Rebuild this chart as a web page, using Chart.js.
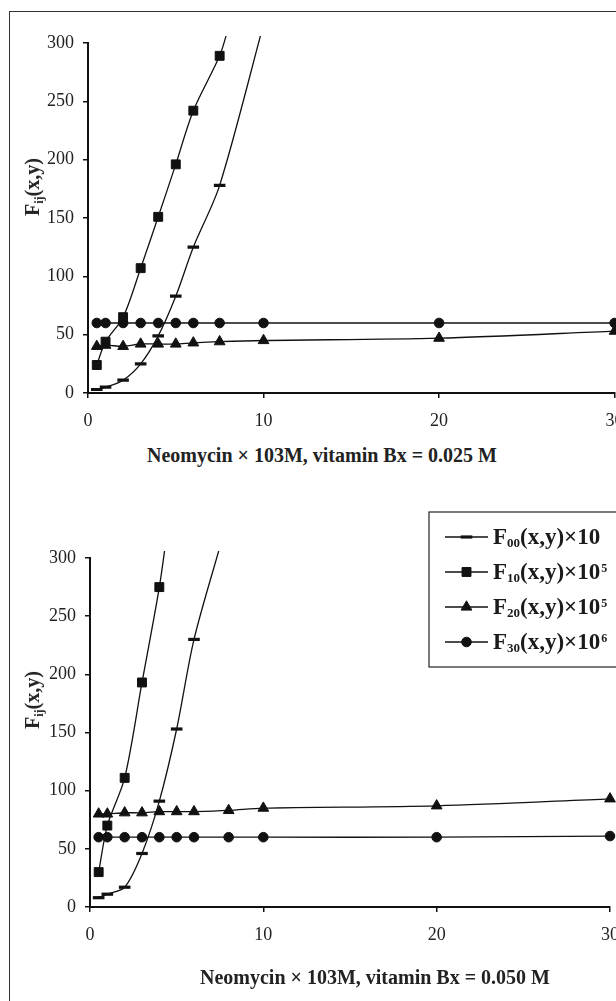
<!DOCTYPE html>
<html><head><meta charset="utf-8">
<script src="https://cdn.jsdelivr.net/npm/chart.js@4.4.1/dist/chart.umd.min.js"></script>
<style>
html,body{margin:0;padding:0;background:#fff;}
body{width:616px;height:1001px;overflow:hidden;position:relative;font-family:'Liberation Serif','Times New Roman',serif;color:#222;}
#frame{position:absolute;left:9px;top:11px;width:700px;height:1100px;border-left:1px solid #333;border-top:1px solid #333;}
canvas{position:absolute;left:0;}
#c1{top:0;}
#c2{top:500px;}
.xt{position:absolute;font-weight:bold;font-size:20px;line-height:20px;white-space:nowrap;}
.yt{position:absolute;font-weight:bold;font-size:20px;line-height:20px;white-space:nowrap;transform:translate(-50%,-50%) rotate(-90deg);}
.yt sub{font-size:12px;vertical-align:-4px;line-height:0;}
</style></head>
<body>
<div id="frame"></div>
<canvas id="c1" width="660" height="440"></canvas>
<canvas id="c2" width="660" height="500"></canvas>
<div class="yt" style="left:32px;top:187px;">F<sub>ij</sub>(x,y)</div>
<div class="xt" style="left:147px;top:445px;">Neomycin × 103M, vitamin Bx = 0.025 M</div>
<div class="yt" style="left:32px;top:700px;">F<sub>ij</sub>(x,y)</div>
<div class="xt" style="left:200px;top:967px;">Neomycin × 103M, vitamin Bx = 0.050 M</div>
<script>
// ---------- DATA ----------
const xTicks = [0, 10, 20, 30];
const yTicks = [0, 50, 100, 150, 200, 250, 300];

// Panel 1: vitamin Bx = 0.025 M
const xTop = [0.5, 1, 2, 3, 4, 5, 6, 7.5, 10, 20, 30];
const f00Top = [3, 5, 11, 25, 49, 83, 125, 178];
const f10Top = [24, 44, 65, 107, 151, 196, 242, 289];
const f20Top = [40, 41, 40, 42, 42, 42, 43, 44, 45, 47, 53];
const f30Top = [60, 60, 60, 60, 60, 60, 60, 60, 60, 60, 60];
// where the smoothed curves leave the plot (no marker)
const f00TopTail = [10, 316];
const f10TopTail = [8, 313];

// Panel 2: vitamin Bx = 0.050 M
const xBot = [0.5, 1, 2, 3, 4, 5, 6, 8, 10, 20, 30];
const f00Bot = [8, 11, 17, 46, 91, 153, 230];
const f10Bot = [30, 70, 111, 193, 275];
const f20Bot = [80, 80, 81, 81, 82, 82, 82, 83, 85, 87, 93];
const f30Bot = [60, 60, 60, 60, 60, 60, 60, 60, 60, 60, 61];
const f00BotTail = [7.5, 310];
const f10BotTail = [4.5, 328];

// Legend text pieces
const legBase = ['F', 'F', 'F', 'F'];
const legSub = ['00', '10', '20', '30'];
const legMain = ['(x,y)×10', '(x,y)×10', '(x,y)×10', '(x,y)×10'];
const legSup = ['', '5', '5', '6'];

// ---------- BUILD ----------
const INK = '#111';
const FONT = "'Liberation Serif','Times New Roman',serif";
Chart.defaults.font.family = FONT;
Chart.defaults.font.size = 18;
Chart.defaults.color = '#222';

const styles = [
  {pointStyle: 'line', radius: 5.8, pbw: 3.2},
  {pointStyle: 'rect', radius: 6.3, pbw: 1},
  {pointStyle: 'triangle', radius: 6.2, pbw: 1},
  {pointStyle: 'circle', radius: 4.8, pbw: 1}
];

function pts(xs, ys, tail) {
  const d = ys.map((v, i) => ({x: xs[i], y: v}));
  if (tail) d.push({x: tail[0], y: tail[1], tail: true});
  return d;
}
function ds(label, data, si) {
  const s = styles[si];
  return {
    label, data,
    borderColor: INK, borderWidth: 1.3,
    backgroundColor: INK,
    pointStyle: s.pointStyle,
    pointRadius: c => (c.raw && c.raw.tail) ? 0 : s.radius,
    pointBorderWidth: s.pbw,
    pointBorderColor: INK, pointBackgroundColor: INK,
    tension: 0.3,
    clip: {left: 10, right: 10, top: 7, bottom: 10}
  };
}
function scales(yWidth, xHeight) {
  return {
    x: {
      type: 'linear', min: 0, max: 30,
      afterBuildTicks: s => { s.ticks = xTicks.map(v => ({value: v})); },
      ticks: {padding: 12, color: '#222', font: {size: 18}},
      grid: {drawOnChartArea: false, drawTicks: true, tickLength: 5, color: INK, lineWidth: 1.5},
      border: {display: true, color: INK, width: 2},
      afterFit: s => { s.height = xHeight; }
    },
    y: {
      type: 'linear', min: 0, max: 300,
      afterBuildTicks: s => { s.ticks = yTicks.map(v => ({value: v})); },
      ticks: {padding: 9, color: '#222', font: {size: 18}},
      grid: {drawOnChartArea: false, drawTicks: true, tickLength: 5, color: INK, lineWidth: 1.5},
      border: {display: true, color: INK, width: 2},
      afterFit: s => { s.width = yWidth; }
    }
  };
}

const legendPlugin = {
  id: 'panelLegend',
  afterDraw(chart, args, o) {
    if (!o || !o.show) return;
    const ctx = chart.ctx;
    ctx.save();
    ctx.strokeStyle = '#222'; ctx.lineWidth = 1.2;
    ctx.strokeRect(o.left, o.top, o.width, o.height);
    chart.data.datasets.forEach((d, i) => {
      const y = o.top + o.firstRow + i * o.rowGap;
      ctx.strokeStyle = INK; ctx.fillStyle = INK; ctx.lineWidth = 1.3;
      ctx.beginPath(); ctx.moveTo(o.lineX0, y); ctx.lineTo(o.lineX1, y); ctx.stroke();
      const s = styles[i];
      ctx.lineWidth = s.pbw;
      Chart.helpers.drawPoint(ctx, {pointStyle: s.pointStyle, radius: s.radius, borderWidth: s.pbw, rotation: 0},
        (o.lineX0 + o.lineX1) / 2, y);
      let x = o.textX; const base = y + 7;
      ctx.fillStyle = '#1a1a1a'; ctx.textBaseline = 'alphabetic'; ctx.textAlign = 'left';
      ctx.font = 'bold 23px ' + FONT; ctx.fillText(legBase[i], x, base); x += ctx.measureText(legBase[i]).width;
      ctx.font = 'bold 13px ' + FONT; ctx.fillText(legSub[i], x, base + 3); x += ctx.measureText(legSub[i]).width;
      ctx.font = 'bold 23px ' + FONT; ctx.fillText(legMain[i], x, base); x += ctx.measureText(legMain[i]).width;
      if (legSup[i]) { ctx.font = 'bold 12px ' + FONT; ctx.fillText(legSup[i], x + 1, base - 7); }
    });
    ctx.restore();
  }
};

function makeChart(id, sets, padTop, padRight, yWidth, xHeight, legendOpts) {
  return new Chart(document.getElementById(id), {
    type: 'line',
    data: {datasets: sets},
    options: {
      responsive: false, animation: false, devicePixelRatio: 1,
      layout: {padding: {top: padTop, right: padRight, left: 0, bottom: 0}},
      scales: scales(yWidth, xHeight),
      plugins: {legend: {display: false}, tooltip: {enabled: false}, panelLegend: legendOpts || {show: false}},
      elements: {line: {fill: false}}
    },
    plugins: [legendPlugin]
  });
}

makeChart('c1', [
  ds('F00(x,y)×10', pts(xTop, f00Top, f00TopTail), 0),
  ds('F10(x,y)×10^5', pts(xTop, f10Top, f10TopTail), 1),
  ds('F20(x,y)×10^5', pts(xTop, f20Top), 2),
  ds('F30(x,y)×10^6', pts(xTop, f30Top), 3)
], 43, 660 - 614.6, 88, 440 - 393);

makeChart('c2', [
  ds('F00(x,y)×10', pts(xBot, f00Bot, f00BotTail), 0),
  ds('F10(x,y)×10^5', pts(xBot, f10Bot, f10BotTail), 1),
  ds('F20(x,y)×10^5', pts(xBot, f20Bot), 2),
  ds('F30(x,y)×10^6', pts(xBot, f30Bot), 3)
], 58, 660 - 610, 90, 500 - 407,
{show: true, left: 429, top: 12, width: 220, height: 155, firstRow: 25, rowGap: 35, lineX0: 445, lineX1: 488, textX: 493});
</script>
</body></html>
